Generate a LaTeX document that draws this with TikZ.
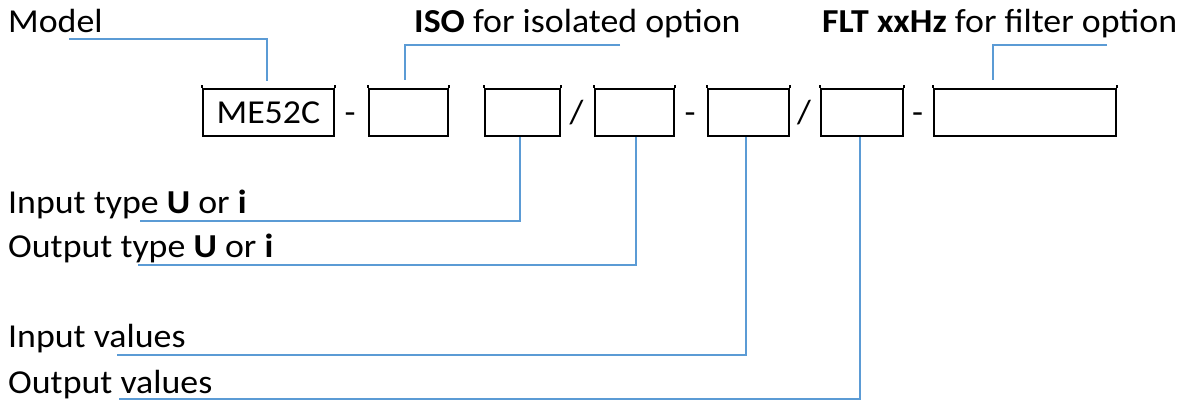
\documentclass[tikz,border=0pt]{standalone}
\usepackage{fontspec}
\setmainfont[FakeStretch=1.07]{Carlito}
\usetikzlibrary{calc}
\definecolor{lineblue}{RGB}{91,155,213}
\begin{document}
\begin{tikzpicture}[x=1pt,y=-1pt,
  box/.style={draw=black,line width=1.8pt,minimum height=47pt,inner sep=0pt,anchor=north west,font=\fontsize{33.5}{40}\selectfont},
  conn/.style={draw=lineblue,line width=1.8pt},
  lbl/.style={anchor=base west,inner sep=0pt,font=\fontsize{33.5}{40}\selectfont},
  sepch/.style={anchor=base,inner sep=0pt,font=\fontsize{33.5}{40}\selectfont}]
\useasboundingbox (0,0) rectangle (1185,403);
% boxes
\node[box,minimum width=131pt] (b1) at (202,88) {ME52C};
\node[box,minimum width=79pt]  (b2) at (368,88) {};
\node[box,minimum width=75pt]  (b3) at (484,88) {};
\node[box,minimum width=79pt]  (b4) at (594,88) {};
\node[box,minimum width=81pt]  (b5) at (707,88) {};
\node[box,minimum width=82pt]  (b6) at (820,88) {};
\node[box,minimum width=182pt] (b7) at (933,88) {};
\foreach \b in {b1,b2,b3,b4,b5,b6,b7}{
  \draw[black,line width=1.8pt] (\b.north west) -- ++(0,-3);
  \draw[black,line width=1.8pt] (\b.north east) -- ++(0,-3);
}
% separators
\node[sepch] (s1) at (350,124) {-};
\node[sepch] (s2) at (576.5,124) {/};
\node[sepch] (s3) at (690,124) {-};
\node[sepch] (s4) at (804,124) {/};
\node[sepch] (s5) at (917.5,124) {-};
% labels
\node[lbl] (model) at (8,33) {Model};
\node[lbl] (iso) at (414,33) {\textbf{ISO} for isolated option};
\node[lbl] (flt) at (822,33) {\textbf{FLT xxHz} for filter option};
\node[lbl] (intype) at (8,214) {Input type \textbf{U} or \textbf{i}};
\node[lbl] (outtype) at (8,258) {Output type \textbf{U} or \textbf{i}};
\node[lbl] (invals) at (8,347) {Input values};
\node[lbl] (outvals) at (8,393) {Output values};
% connector free ends
\coordinate (modelA) at (69,39);
\coordinate (isoA) at (620,45);
\coordinate (fltA) at (1107,45);
\coordinate (itA) at (140,221);
\coordinate (otA) at (138,265);
\coordinate (ivA) at (117,355);
\coordinate (ovA) at (119,399);
% connectors
\draw[conn] (modelA) -| ([xshift=-1.5pt,yshift=7pt]b1.north);
\draw[conn] (isoA) -| ([xshift=-3.5pt,yshift=8pt]b2.north);
\draw[conn] (fltA) -| ([xshift=-32pt,yshift=8pt]b7.north);
\draw[conn] ([xshift=-2.5pt]b3.south) |- (itA);
\draw[conn] ([xshift=1.5pt]b4.south) |- (otA);
\draw[conn] ([xshift=-2.5pt]b5.south) |- (ivA);
\draw[conn] ([xshift=-2pt]b6.south) |- (ovA);
\end{tikzpicture}
\end{document}
